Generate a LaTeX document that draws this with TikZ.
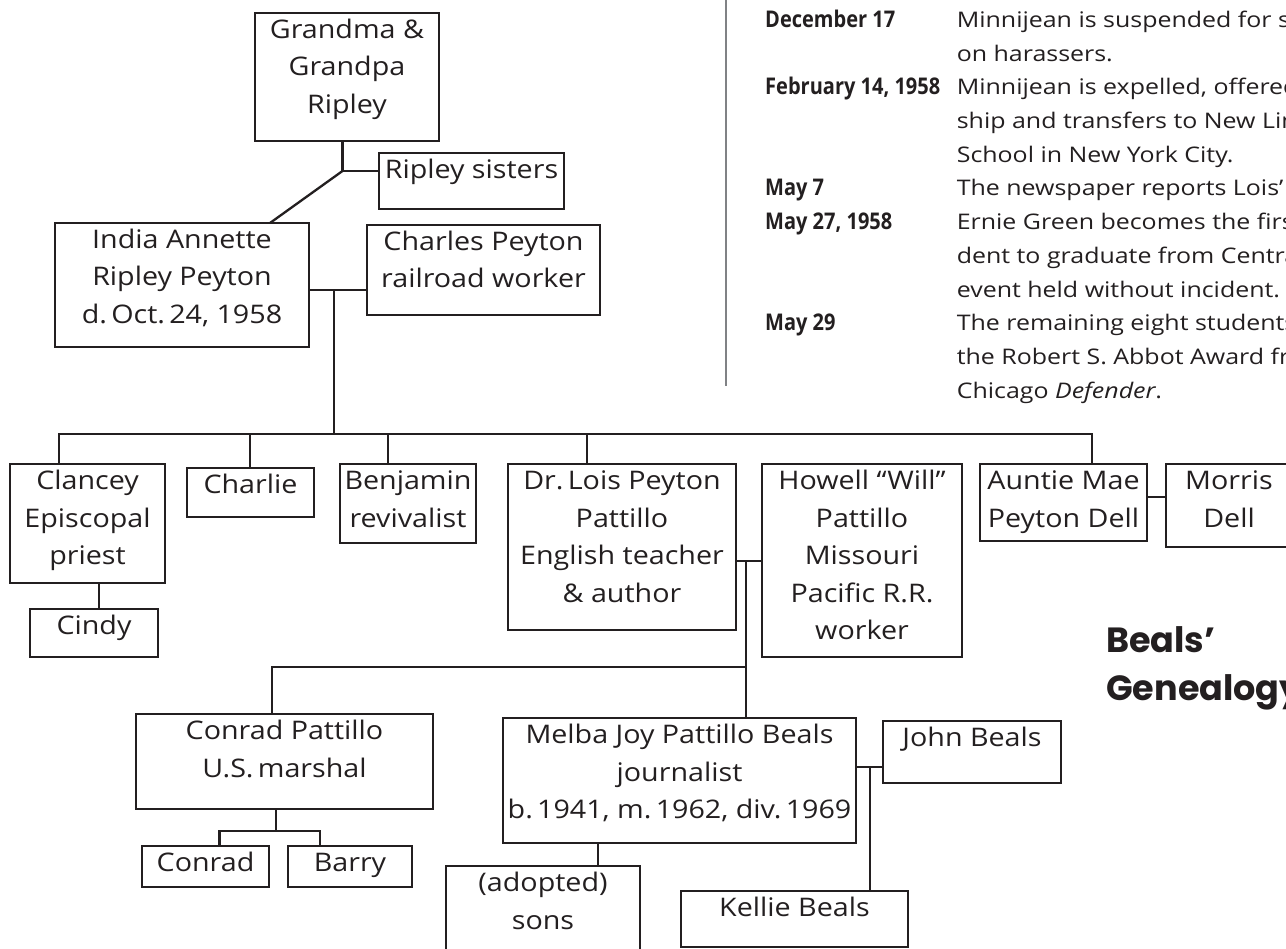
\documentclass[tikz,border=0pt]{standalone}
\usepackage{fontspec}
\newfontfamily\boxfont[FakeStretch=1.12]{Open Sans}
\newfontfamily\descfont[FakeStretch=1.16]{Open Sans}
\newfontfamily\datefont[FakeStretch=0.87]{Open Sans}
\newfontfamily\titlefont{Poppins}
\definecolor{ink}{HTML}{231F20}
\definecolor{sepgray}{HTML}{808285}
\begin{document}
\begin{tikzpicture}[x=1pt,y=-1pt,
  famBox/.style={draw=ink, line width=2.5pt, inner sep=0pt, outer sep=0pt, anchor=north west},
  lbl/.style={anchor=base, align=center, inner sep=0pt, text=ink, font=\boxfont\fontsize{25.6}{37.5}\selectfont},
  conn/.style={draw=ink, line width=2.3pt},
  dt/.style={anchor=base west, inner sep=0pt, text=ink, font=\datefont\bfseries\fontsize{23}{33.75}\selectfont},
  ds/.style={anchor=base west, align=left, inner sep=0pt, text=ink, font=\descfont\fontsize{21.5}{33.75}\selectfont},
  ttl/.style={anchor=base west, align=left, inner sep=0pt, text=ink, font=\titlefont\bfseries\fontsize{35}{48}\selectfont}]
\fill[white] (0,0) rectangle (1286,949);
\useasboundingbox (0,0) rectangle (1286,949);
\clip (0,0) rectangle (1286,949);

% timeline (multi-line nodes are anchored at the baseline of their last line)
\draw[sepgray, line width=2pt] (726,0) coordinate (sepT) -- (726,386) coordinate (sepB);
\node[dt] (d1) at (765,27.3) {December 17};
\node[dt] (d2) at (765,95) {February 14, 1958};
\node[dt] (d3) at (765,196) {May 7};
\node[dt] (d4) at (765,229.8) {May 27, 1958};
\node[dt] (d5) at (765,331) {May 29};
\node[ds] (e1) at (956.6,61.05) {Minnijean is suspended for s\\on harassers.};
\node[ds] (e2) at (956.6,162.5) {Minnijean is expelled, offered\\ship and transfers to New Lin\\School in New York City.};
\node[ds] (e3) at (956.6,196) {The newspaper reports Lois’};
\node[ds] (e4) at (956.6,297.3) {Ernie Green becomes the first\\dent to graduate from Centra\\event held without incident.};
\node[ds] (e5) at (956.6,398.5) {The remaining eight students\\the Robert S. Abbot Award fr\\Chicago \textit{Defender}.};

% title
\node[ttl] (title) at (1106,700) {Beals’\\Genealogy};

% boxes
\node[famBox, minimum width=184pt, minimum height=128pt] (grandma) at (255,13) {};
\node[famBox, minimum width=185pt, minimum height=56pt] (sisters) at (379,153) {};
\node[famBox, minimum width=254pt, minimum height=124pt] (india) at (55,223) {};
\node[famBox, minimum width=233pt, minimum height=90pt] (charles) at (367,225) {};
\node[famBox, minimum width=155pt, minimum height=119pt] (clancey) at (10,464) {};
\node[famBox, minimum width=127pt, minimum height=49pt] (charlie) at (187,468) {};
\node[famBox, minimum width=136pt, minimum height=79pt] (benjamin) at (340,464) {};
\node[famBox, minimum width=128pt, minimum height=48pt] (cindy) at (30,609) {};
\node[famBox, minimum width=228pt, minimum height=166pt] (lois) at (508,464) {};
\node[famBox, minimum width=200pt, minimum height=193pt] (howell) at (762,464) {};
\node[famBox, minimum width=167pt, minimum height=77pt] (auntie) at (980,464) {};
\node[famBox, minimum width=126pt, minimum height=83pt] (morris) at (1166,464) {};
\node[famBox, minimum width=297pt, minimum height=95pt] (conradp) at (136,714) {};
\node[famBox, minimum width=127pt, minimum height=41pt] (conrad) at (142,846) {};
\node[famBox, minimum width=124pt, minimum height=41pt] (barry) at (288,846) {};
\node[famBox, minimum width=353pt, minimum height=125pt] (melba) at (503,718) {};
\node[famBox, minimum width=194pt, minimum height=110pt] (sons) at (446,866) {};
\node[famBox, minimum width=178pt, minimum height=62pt] (john) at (883,721) {};
\node[famBox, minimum width=227pt, minimum height=56pt] (kellie) at (681,891) {};

% labels (first baseline 25.5pt below the box top, lines 37.5pt apart)
\node[lbl] (grandma-t) at ([yshift=-100.5pt]grandma.north) {Grandma \&\\Grandpa\\Ripley};
\node[lbl] (sisters-t) at ([yshift=-25.5pt]sisters.north) {Ripley sisters};
\node[lbl] (india-t) at ([yshift=-100.5pt]india.north) {India Annette\\Ripley Peyton\\d.\,Oct.\,24, 1958};
\node[lbl] (charles-t) at ([yshift=-63pt]charles.north) {Charles Peyton\\railroad worker};
\node[lbl] (clancey-t) at ([yshift=-100.5pt]clancey.north) {Clancey\\Episcopal\\priest};
\node[lbl] (charlie-t) at ([yshift=-25.5pt]charlie.north) {Charlie};
\node[lbl] (benjamin-t) at ([yshift=-63pt]benjamin.north) {Benjamin\\revivalist};
\node[lbl] (cindy-t) at ([yshift=-25.5pt]cindy.north) {Cindy};
\node[lbl] (lois-t) at ([yshift=-138pt]lois.north) {Dr.\,Lois Peyton\\Pattillo\\English teacher\\\& author};
\node[lbl] (howell-t) at ([yshift=-175.5pt]howell.north) {Howell “Will”\\Pattillo\\Missouri\\Pacific R.R.\\worker};
\node[lbl] (auntie-t) at ([yshift=-63pt]auntie.north) {Auntie Mae\\Peyton Dell};
\node[lbl] (morris-t) at ([yshift=-63pt]morris.north) {Morris\\Dell};
\node[lbl] (conradp-t) at ([yshift=-63pt]conradp.north) {Conrad Pattillo\\U.S.\,marshal};
\node[lbl] (conrad-t) at ([yshift=-25.5pt]conrad.north) {Conrad};
\node[lbl] (barry-t) at ([yshift=-25.5pt]barry.north) {Barry};
\node[lbl] (melba-t) at ([yshift=-100.5pt]melba.north) {Melba Joy Pattillo Beals\\journalist\\b.\,1941, m.\,1962, div.\,1969};
\node[lbl] (sons-t) at ([yshift=-63pt]sons.north) {(adopted)\\sons};
\node[lbl] (john-t) at ([yshift=-25.5pt]john.north) {John Beals};
\node[lbl] (kellie-t) at ([yshift=-25.5pt]kellie.north) {Kellie Beals};

% connectors
\coordinate (gj) at (342.5,171);
\draw[conn] (gj |- grandma.south) -- (gj) -- (gj -| sisters.west);
\draw[conn] (gj) -- ([xshift=88pt]india.north);
\coordinate (m1) at (334,290);
\draw[conn] (m1 -| india.east) -- (m1 -| charles.west);
\coordinate (sibL) at (59,434);
\coordinate (sibR) at (1092,434);
\draw[conn] (m1) -- (m1 |- sibL);
\draw[conn] (sibL |- clancey.north) -- (sibL) -- (sibR) -- (sibR |- auntie.north);
\coordinate (dC) at (250,434);
\coordinate (dB) at (388,434);
\coordinate (dL) at (587,434);
\draw[conn] (dC) -- (dC |- charlie.north);
\draw[conn] (dB) -- (dB |- benjamin.north);
\draw[conn] (dL) -- (dL |- lois.north);
\coordinate (cc) at (99,595);
\draw[conn] (cc |- clancey.south) -- (cc |- cindy.north);
\coordinate (m2) at (746,561);
\draw[conn] (m2 -| lois.east) -- (m2 -| howell.west);
\draw[conn] (m2) -- (m2 |- melba.north);
\coordinate (k1) at (746,667);
\coordinate (k2) at (272,667);
\draw[conn] (k1) -- (k2) -- (k2 |- conradp.north);
\coordinate (c1) at (276,831);
\coordinate (c2) at (219.5,831);
\coordinate (c3) at (320,831);
\draw[conn] (c1 |- conradp.south) -- (c1);
\draw[conn] (c2 |- conrad.north) -- (c2) -- (c3) -- (c3 |- barry.north);
\coordinate (m3) at (1156,497);
\draw[conn] (m3 -| auntie.east) -- (m3 -| morris.west);
\coordinate (s1) at (598,855);
\draw[conn] (s1 |- melba.south) -- (s1 |- sons.north);
\coordinate (m4) at (870,767);
\draw[conn] (m4 -| melba.east) -- (m4 -| john.west);
\draw[conn] (m4) -- (m4 |- kellie.north);
\end{tikzpicture}
\end{document}
